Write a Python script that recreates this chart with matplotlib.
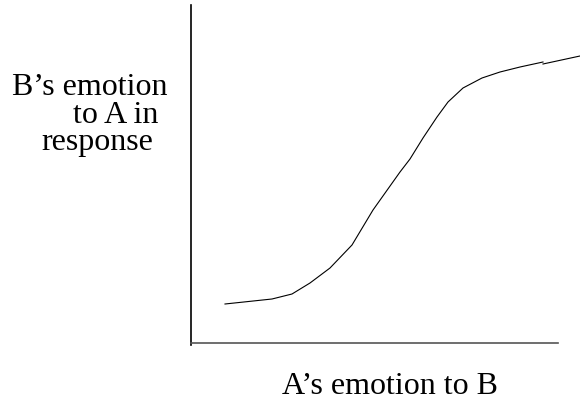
import matplotlib
matplotlib.use("Agg")
import matplotlib.pyplot as plt

# A's emotion toward B (x) against B's emotional reply (y), sketch units
emotion_a = [34, 81, 101, 119, 139, 161, 182, 209, 219, 232, 246, 257, 272, 291, 309, 329, 352]
response_b = [39, 44, 49, 60, 75, 98, 133, 171, 184, 205, 226, 241, 255, 265, 271, 276, 281]

# short tail segment drawn separately at the top right
tail_a = [352, 389]
tail_b = [279, 287]

x_label = "A\u2019s emotion to B"
y_label_lines = ["B\u2019s emotion", "to A in", "response"]

plt.rcParams['font.family'] = ['Liberation Serif', 'DejaVu Serif']

fig = plt.figure(figsize=(5.8, 4.0), dpi=100)
ax = fig.add_axes([191 / 580, 57 / 400, 367 / 580, 338 / 400])

ax.plot(emotion_a, response_b, color="black", lw=0.8, clip_on=False)
ax.plot(tail_a, tail_b, color="black", lw=0.8, clip_on=False)

ax.set_xlim(0, 367)
ax.set_ylim(0, 338)

for side in ("top", "right"):
    ax.spines[side].set_visible(False)
ax.spines["left"].set_color("black")
ax.spines["left"].set_linewidth(1.2)
ax.spines["left"].set_bounds(-2, 338)
ax.spines["bottom"].set_color("#555555")
ax.spines["bottom"].set_linewidth(1.2)
ax.set_xticks([])
ax.set_yticks([])

fig.text(390 / 580, 1 - 386 / 400, x_label, ha="center", va="center", fontsize=23)

# y label, each line set a little further in than the one above
for line, right, base in zip(y_label_lines, [167, 158, 153], [95, 123, 150]):
    fig.text(right / 580, 1 - base / 400, line, ha="right", va="baseline", fontsize=23)

fig.savefig("out.png", dpi=100)
